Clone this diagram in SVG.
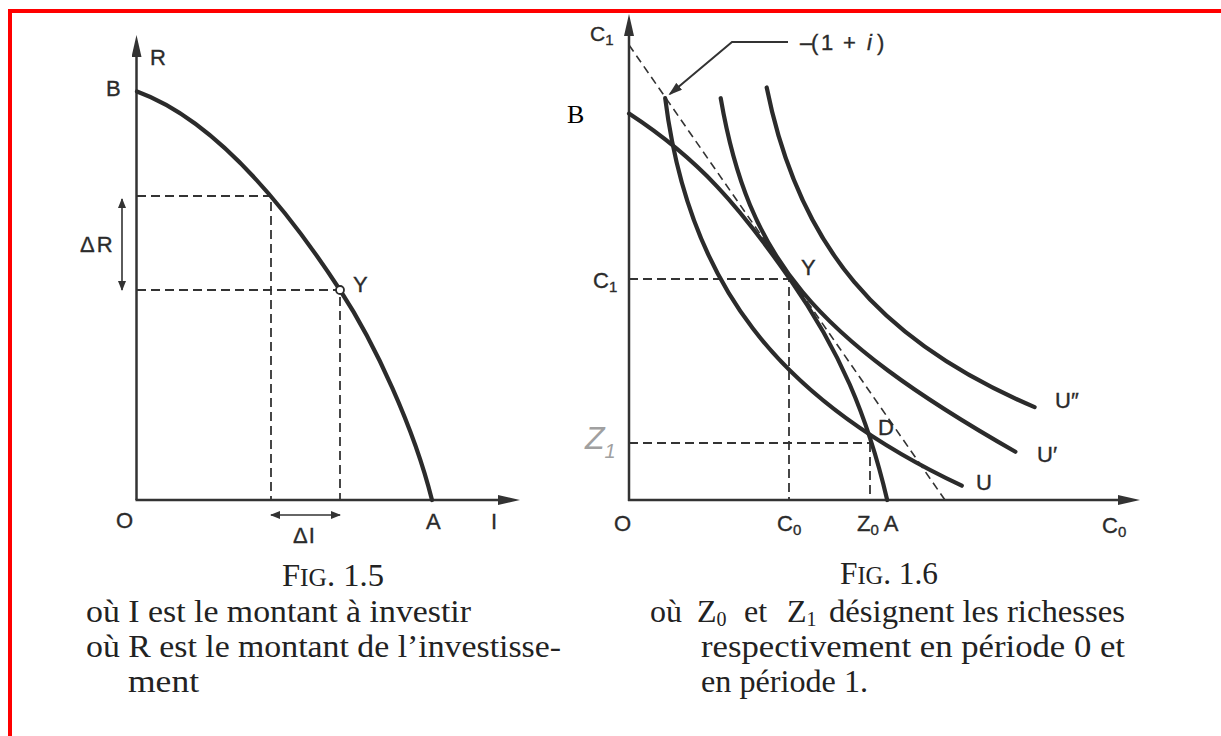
<svg xmlns="http://www.w3.org/2000/svg" width="1221" height="736" viewBox="0 0 1221 736">
<defs>
<marker id="axisArrow" markerUnits="userSpaceOnUse" markerWidth="22" markerHeight="10" refX="12" refY="5" orient="auto"><path d="M0,0 L22,5 L0,10 Z" fill="#333"/></marker>
<marker id="smallArrow" markerUnits="userSpaceOnUse" markerWidth="10" markerHeight="8" refX="9" refY="4" orient="auto-start-reverse"><path d="M0,0 L10,4 L0,8 Z" fill="#333"/></marker>
<marker id="leaderArrow" markerUnits="userSpaceOnUse" markerWidth="14" markerHeight="9" refX="12" refY="4.5" orient="auto"><path d="M0,0 L14,4.5 L0,9 Z" fill="#333"/></marker>
<style>
.ax{stroke:#333;stroke-width:2.5;fill:none}
.crv{stroke:#2b2b2b;stroke-width:4.2;fill:none;stroke-linecap:round}
.dash{stroke:#333;stroke-width:1.8;fill:none;stroke-dasharray:9 5}
.thin{stroke:#333;stroke-width:1.6;fill:none}
.lbl{font-family:"Liberation Sans",Arial,sans-serif;font-size:22px;fill:#2b2b2b;stroke:#2b2b2b;stroke-width:0.35}
.sub{font-size:15px}
.cap{font-family:"Liberation Serif","Times New Roman",serif;font-size:32px;fill:#222}
</style>
</defs>
<rect width="1221" height="736" fill="#fff"/>
<rect id="border" x="10" y="11" width="1230" height="740" fill="none" stroke="#f00" stroke-width="4"/>

<g id="fig15">
  <g id="fig15-connectors">
    <line class="ax" x1="136.5" y1="500" x2="136.5" y2="45" marker-end="url(#axisArrow)"/>
    <line class="ax" x1="135.5" y1="500" x2="510" y2="500" marker-end="url(#axisArrow)"/>
    <path class="dash" d="M137,196 H271 V500"/>
    <path class="dash" d="M137,290 H340 V500"/>
    <line class="thin" x1="122" y1="199" x2="122" y2="290" marker-start="url(#smallArrow)" marker-end="url(#smallArrow)"/>
    <line class="thin" x1="271" y1="515" x2="340" y2="515" marker-start="url(#smallArrow)" marker-end="url(#smallArrow)"/>
  </g>
  <g id="fig15-curve">
    <path class="crv" d="M137,91.5 C210,118 280,198 340,290 C375,343.5 414,428 432,500"/>
    <circle cx="340" cy="290" r="4" fill="#fff" stroke="#2b2b2b" stroke-width="1.8"/>
  </g>
  <g id="fig15-labels">
    <text class="lbl" x="150" y="65">R</text>
    <text class="lbl" x="106" y="96">B</text>
    <text class="lbl" x="80" y="252" letter-spacing="2">ΔR</text>
    <text class="lbl" x="353" y="292">Y</text>
    <text class="lbl" x="116" y="528">O</text>
    <text class="lbl" x="426" y="529">A</text>
    <text class="lbl" x="491" y="529">I</text>
    <text class="lbl" x="293" y="543" letter-spacing="1">ΔI</text>
  </g>
</g>

<g id="fig16">
  <g id="fig16-connectors">
    <line class="ax" x1="629" y1="501" x2="629" y2="24" marker-end="url(#axisArrow)"/>
    <line class="ax" x1="628" y1="500" x2="1130" y2="500" marker-end="url(#axisArrow)"/>
    <line class="dash" x1="629" y1="45" x2="945" y2="500" style="stroke-dasharray:8 5;stroke-width:1.6"/>
    <path class="dash" d="M629,279 H789 V500"/>
    <path class="dash" d="M629,443 H873"/>
    <line class="dash" x1="870" y1="443" x2="870" y2="500"/>
    <polyline class="thin" points="788,42 732,42 670,94" style="stroke-width:2" marker-end="url(#leaderArrow)"/>
  </g>
  <g id="curve-ppf">
    <path class="crv" d="M629,113.6 C700,160 739.6,206.8 789.6,278.6 C839.6,350.4 867.2,414.8 887.2,500"/>
  </g>
  <g id="curve-U">
    <path class="crv" d="M665.2,98.2 C688.2,282.7 777.2,398.9 961.8,485.7"/>
  </g>
  <g id="curve-U1">
    <path class="crv" d="M720.7,98.2 C748.4,258.8 813.2,336.6 1015.4,451.8"/>
  </g>
  <g id="curve-U2">
    <path class="crv" d="M766.7,87.5 C798.5,245.7 878.9,341.2 1034.6,407.1"/>
  </g>
  <g id="fig16-labels">
    <text class="lbl" x="590" y="41" style="font-size:21px">C<tspan class="sub" dy="4">1</tspan></text>
    <text class="lbl"><tspan x="800" y="50">–</tspan><tspan x="811">(</tspan><tspan x="821">1</tspan><tspan x="843">+</tspan><tspan x="867" font-style="italic">i</tspan><tspan x="877">)</tspan></text>
    <text x="567" y="123" font-family="'Liberation Serif','Times New Roman',serif" font-size="26" fill="#000">B</text>
    <text class="lbl" x="593" y="288">C<tspan class="sub" dy="4">1</tspan></text>
    <text class="lbl" x="801" y="275">Y</text>
    <text class="lbl" x="878" y="435">D</text>
    <text x="585" y="449" font-family="'Liberation Sans',Arial,sans-serif" font-style="italic" font-size="32" fill="#a0a0a0">Z<tspan font-size="20" dy="9">1</tspan></text>
    <text class="lbl" x="1055" y="408">U″</text>
    <text class="lbl" x="1037" y="462">U′</text>
    <text class="lbl" x="976" y="490">U</text>
    <text class="lbl" x="614" y="531">O</text>
    <text class="lbl" x="777" y="531">C<tspan class="sub" dy="4">0</tspan></text>
    <text class="lbl" x="857" y="531">Z<tspan class="sub" dy="4">0</tspan><tspan dy="-4"> A</tspan></text>
    <text class="lbl" x="1102" y="533">C<tspan class="sub" dy="4">0</tspan></text>
  </g>
</g>

<g id="captions">
  <text class="cap" x="282" y="586" textLength="102" lengthAdjust="spacingAndGlyphs">F<tspan font-size="25">IG</tspan>. 1.5</text>
  <text class="cap" x="86" y="622" textLength="385" lengthAdjust="spacingAndGlyphs">où I est le montant à investir</text>
  <text class="cap" x="86" y="657" textLength="475" lengthAdjust="spacingAndGlyphs">où R est le montant de l’investisse-</text>
  <text class="cap" x="128" y="692" textLength="71" lengthAdjust="spacingAndGlyphs">ment</text>
  <text class="cap" x="840" y="584" textLength="98" lengthAdjust="spacingAndGlyphs">F<tspan font-size="25">IG</tspan>. 1.6</text>
  <text class="cap" x="650" y="622">où</text>
  <text class="cap" x="697" y="622">Z<tspan font-size="20" dy="4">0</tspan></text>
  <text class="cap" x="744" y="622">et</text>
  <text class="cap" x="787" y="622">Z<tspan font-size="20" dy="4">1</tspan></text>
  <text class="cap" x="829" y="622" textLength="296" lengthAdjust="spacingAndGlyphs">désignent les richesses</text>
  <text class="cap" x="701" y="657" textLength="424" lengthAdjust="spacingAndGlyphs">respectivement en période 0 et</text>
  <text class="cap" x="701" y="692" textLength="167" lengthAdjust="spacingAndGlyphs">en période 1.</text>
</g>
</svg>
